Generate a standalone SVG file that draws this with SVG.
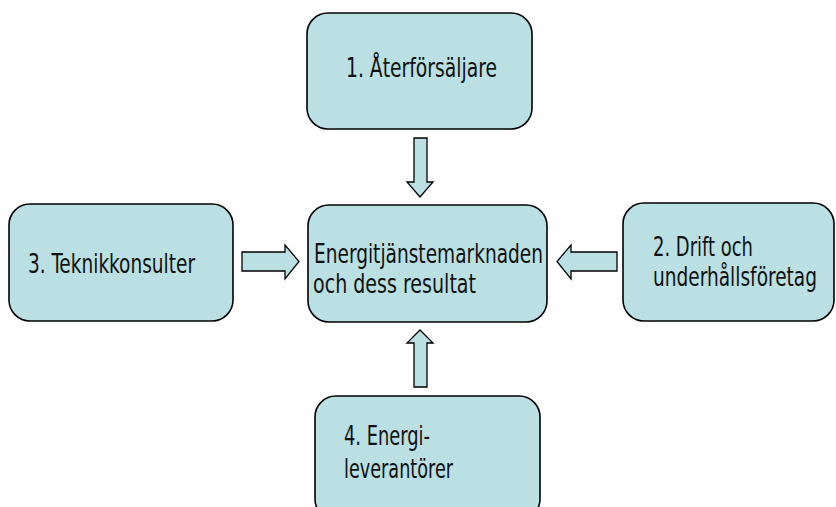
<svg xmlns="http://www.w3.org/2000/svg" width="836" height="507" viewBox="0 0 836 507">
<style>
.box{fill:#BBE0E3;stroke:#000;stroke-width:1.6}
.arr{fill:#BBE0E3;stroke:#000;stroke-width:1.3;stroke-linejoin:miter}
text{font-family:"DejaVu Sans Condensed","Liberation Sans",sans-serif;font-stretch:condensed;font-size:27px;fill:#111}
</style>
<rect width="836" height="507" fill="#fff"/>
<g id="connectors">
<polygon class="arr" points="414,138 427,138 427,182 433,182 420,197 407,182 414,182"/>
<polygon class="arr" points="414,387 427,387 427,343 433,343 420,330 407,343 414,343"/>
<polygon class="arr" points="242,252 285,252 285,245 299,261.5 285,279 285,271 242,271"/>
<polygon class="arr" points="617,252 571,252 571,245 557,261.5 571,279 571,271 617,271"/>
</g>
<g id="node-1">
<rect class="box" x="307" y="13" width="225" height="116" rx="21"/>
<text x="346" y="77" textLength="151" lengthAdjust="spacingAndGlyphs">1. Återförsäljare</text>
</g>
<g id="node-center">
<rect class="box" x="308" y="205" width="239" height="117" rx="21"/>
<text x="314" y="263" textLength="229" lengthAdjust="spacingAndGlyphs">Energitjänstemarknaden</text>
<text x="313" y="293" textLength="163" lengthAdjust="spacingAndGlyphs">och dess resultat</text>
</g>
<g id="node-3">
<rect class="box" x="9" y="204" width="224" height="117" rx="21"/>
<text x="28" y="273" textLength="167" lengthAdjust="spacingAndGlyphs">3. Teknikkonsulter</text>
</g>
<g id="node-2">
<rect class="box" x="623" y="203" width="211" height="118" rx="21"/>
<text x="653" y="256" textLength="100" lengthAdjust="spacingAndGlyphs">2. Drift och</text>
<text x="653" y="286" textLength="164" lengthAdjust="spacingAndGlyphs">underhållsföretag</text>
</g>
<g id="node-4">
<rect class="box" x="315" y="396" width="225" height="124" rx="21"/>
<text x="344" y="445" textLength="86" lengthAdjust="spacingAndGlyphs">4. Energi-</text>
<text x="344" y="478" textLength="109" lengthAdjust="spacingAndGlyphs">leverantörer</text>
</g>
</svg>
